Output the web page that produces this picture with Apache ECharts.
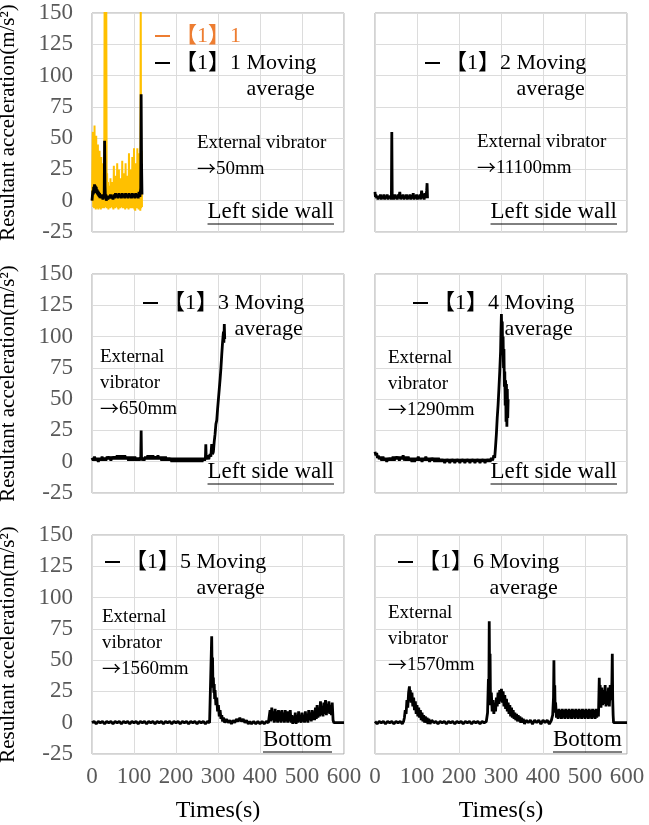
<!DOCTYPE html>
<html>
<head>
<meta charset="utf-8">
<title>Resultant acceleration</title>
<script src="https://cdn.jsdelivr.net/npm/echarts@6.0.0/dist/echarts.min.js"></script>
<style>
  html, body { margin: 0; padding: 0; background: #fff; }
  #chart { width: 649px; height: 825px; }
</style>
</head>
<body>
<div id="chart"></div>
<script>
// axis ticks
const xTicks = [0, 100, 200, 300, 400, 500, 600];
const yTicks = [-25, 0, 25, 50, 75, 100, 125, 150];

// [time (s), acceleration (m/s2)]
const wall1Raw = [[0,0],[1,30],[2,55],[3,-5],[4,48],[5,-6],[6,60],[7,-4],[8,42],[9,-7],[10,52],[11,-5],[12,38],[13,-6],[14,45],[15,-7],[16,33],[17,-5],[18,40],[19,-6],[20,28],[21,-7],[22,35],[23,-5],[24,22],[25,-6],[26,30],[27,-5],[28,18],[29,-6],[30,160],[31,-5],[32,160],[33,-4],[34,160],[35,-6],[36,22],[37,-5],[38,15],[39,-7],[40,12],[41,-5],[42,8],[43,-6],[44,18],[45,-4],[46,10],[47,-5],[48,15],[49,-6],[50,9],[51,-7],[52,28],[53,-5],[54,14],[55,-6],[56,20],[57,-4],[58,12],[59,-5],[60,30],[61,-6],[62,15],[63,-7],[64,25],[65,-5],[66,12],[67,-6],[68,18],[69,-4],[70,14],[71,-5],[72,32],[73,-6],[74,16],[75,-5],[76,22],[77,-6],[78,12],[79,-7],[80,30],[81,-5],[82,15],[83,-6],[84,20],[85,-4],[86,14],[87,-7],[88,38],[89,-5],[90,18],[91,-6],[92,25],[93,-5],[94,15],[95,-6],[96,35],[97,-4],[98,20],[99,-6],[100,42],[101,-7],[102,22],[103,-8],[104,30],[105,-5],[106,18],[107,-6],[108,42],[109,-5],[110,25],[111,-7],[112,38],[113,-6],[114,28],[115,-8],[116,160],[117,-6],[118,40],[119,-5]];
const wall1Avg = [[0,0],[1,4],[2,8],[3,5],[4,11],[5,7],[6,13],[7,8],[8,12],[9,6],[10,11],[11,7],[12,9],[13,5],[14,8],[15,4],[16,7],[17,3],[18,6],[19,2],[20,5],[22,2],[24,5],[26,1],[28,4],[29,2],[30,48],[31,12],[32,2],[33,5],[34,0],[36,3],[38,1],[40,4],[42,2],[44,5],[46,2],[48,4],[50,1],[52,5],[54,2],[56,6],[58,3],[60,5],[62,2],[64,6],[66,3],[68,5],[70,2],[72,6],[74,3],[76,5],[78,2],[80,6],[82,3],[84,5],[86,2],[88,6],[90,3],[92,5],[94,2],[96,6],[98,3],[100,5],[102,2],[104,6],[106,3],[108,5],[110,2],[112,7],[114,3],[116,10],[117,85],[118,30],[119,5]];
const wall2Avg = [[0,7],[1,3],[2,5],[3,2],[5,4],[7,1],[9,4],[11,2],[13,5],[15,1],[17,4],[19,2],[21,5],[23,1],[25,4],[27,2],[29,5],[31,1],[33,4],[35,2],[37,4],[39,1],[40,55],[41,2],[43,4],[45,1],[47,5],[49,2],[51,4],[53,1],[55,5],[57,2],[59,7],[61,1],[63,4],[65,2],[67,5],[69,1],[71,4],[73,2],[75,5],[77,1],[79,4],[81,2],[83,5],[85,1],[87,4],[89,2],[91,6],[93,1],[95,4],[97,2],[99,5],[101,1],[103,4],[105,2],[107,5],[109,1],[111,8],[113,2],[115,5],[117,1],[119,6],[121,2],[123,8],[124,14],[125,2]];
const wall3Avg = [[0,3],[3,1],[6,4],[9,1],[12,3],[15,0],[18,3],[21,1],[24,4],[27,1],[30,3],[33,1],[36,4],[39,2],[42,4],[45,1],[48,4],[51,2],[54,4],[57,2],[60,5],[63,2],[66,5],[69,2],[72,5],[75,2],[78,5],[81,2],[84,4],[87,1],[90,4],[93,1],[96,4],[99,1],[102,4],[105,1],[108,3],[111,1],[114,3],[116,1],[117,25],[118,1],[121,3],[124,1],[127,4],[130,2],[133,5],[136,2],[139,5],[142,2],[145,5],[148,2],[151,4],[154,2],[157,5],[160,2],[163,4],[166,1],[169,4],[172,1],[175,4],[178,1],[181,3],[184,1],[187,3],[190,0],[193,3],[196,0],[199,3],[202,0],[205,3],[208,0],[211,3],[214,0],[217,3],[220,0],[223,3],[226,0],[229,3],[232,0],[235,3],[238,0],[241,3],[244,0],[247,3],[250,0],[253,3],[256,0],[259,3],[262,0],[265,3],[268,1],[270,3],[271,14],[272,2],[275,5],[278,2],[281,6],[283,4],[285,14],[287,6],[289,8],[291,16],[293,22],[295,30],[297,33],[299,42],[301,50],[303,58],[305,66],[307,75],[309,86],[311,96],[313,104],[314,95],[315,110],[316,98]];
const wall4Avg = [[0,8],[2,5],[4,7],[6,3],[8,5],[10,2],[13,4],[16,1],[19,4],[22,1],[25,3],[28,0],[31,3],[34,1],[37,3],[40,1],[43,4],[46,1],[49,4],[52,2],[55,4],[58,1],[61,4],[64,2],[67,5],[70,1],[73,4],[76,1],[79,4],[82,1],[85,3],[88,0],[91,3],[94,0],[97,3],[100,1],[103,4],[106,1],[109,3],[112,0],[115,3],[118,1],[121,4],[124,1],[127,3],[130,0],[133,3],[136,1],[139,3],[142,0],[145,3],[148,0],[151,3],[154,0],[157,2],[160,0],[163,2],[166,-1],[169,2],[172,0],[175,2],[178,-1],[181,2],[184,0],[187,2],[190,-1],[193,2],[196,0],[199,2],[202,-1],[205,2],[208,0],[211,2],[214,-1],[217,2],[220,0],[223,2],[226,-1],[229,2],[232,0],[235,2],[238,-1],[241,2],[244,0],[247,2],[250,-1],[253,2],[256,0],[259,2],[262,-1],[265,2],[268,0],[271,2],[274,0],[277,3],[280,1],[283,5],[285,3],[287,12],[289,22],[291,35],[293,45],[295,58],[297,72],[299,88],[300,105],[301,118],[302,98],[303,112],[304,85],[305,100],[306,75],[307,90],[308,60],[309,72],[310,45],[311,65],[312,32],[313,62],[314,28],[315,58],[316,35],[317,50]];
const bottom5Avg = [[0,0],[5,1],[10,-1],[15,1],[20,0],[25,1],[30,-1],[35,1],[40,0],[45,1],[50,-1],[55,1],[60,0],[65,1],[70,-1],[75,1],[80,0],[85,1],[90,-1],[95,1],[100,0],[105,1],[110,-1],[115,1],[120,0],[125,1],[130,-1],[135,1],[140,0],[145,1],[150,-1],[155,1],[160,0],[165,1],[170,-1],[175,1],[180,0],[185,1],[190,-1],[195,1],[200,0],[205,1],[210,-1],[215,1],[220,0],[225,1],[230,-1],[235,1],[240,0],[245,1],[250,-1],[255,1],[260,0],[265,1],[270,-1],[275,1],[280,0],[283,1],[285,69],[286,38],[287,52],[288,28],[289,36],[290,24],[291,31],[292,19],[293,26],[295,14],[297,20],[299,9],[301,14],[303,5],[305,10],[307,3],[309,6],[311,1],[313,4],[316,0],[320,3],[324,0],[328,2],[332,-1],[336,2],[340,0],[344,3],[348,1],[352,4],[356,1],[360,3],[364,0],[368,2],[372,-1],[376,1],[380,-1],[385,1],[390,-1],[395,1],[400,-1],[405,1],[410,-1],[415,1],[420,0],[422,1],[424,10],[426,1],[428,12],[430,2],[432,9],[434,0],[436,11],[438,1],[440,9],[442,0],[444,10],[446,1],[448,9],[450,0],[452,10],[454,1],[456,8],[458,0],[460,10],[462,1],[464,9],[466,0],[468,9],[470,1],[472,10],[474,0],[476,6],[478,-1],[480,5],[482,0],[484,8],[486,-1],[488,6],[490,0],[492,9],[494,1],[496,5],[498,0],[500,8],[502,1],[504,6],[506,0],[508,9],[510,1],[512,7],[514,0],[516,10],[518,2],[520,8],[522,1],[524,10],[526,2],[528,9],[530,2],[532,12],[534,3],[536,14],[538,4],[540,11],[542,5],[544,17],[546,6],[548,13],[550,5],[552,16],[554,7],[556,18],[558,6],[560,15],[562,8],[564,17],[566,7],[568,14],[570,6],[572,16],[574,2],[576,0],[600,0]];
const bottom6Avg = [[0,1],[5,-1],[10,1],[15,0],[20,1],[25,-1],[30,1],[35,0],[40,1],[45,-1],[50,1],[55,0],[60,1],[65,-1],[68,1],[70,4],[72,10],[74,7],[76,18],[78,12],[80,24],[82,29],[83,20],[84,26],[86,16],[88,24],[90,13],[92,20],[94,10],[96,17],[98,7],[100,14],[102,5],[104,12],[106,4],[108,10],[110,2],[112,8],[114,1],[116,6],[118,0],[120,5],[122,0],[124,4],[126,-1],[128,3],[131,-1],[135,2],[140,0],[145,1],[150,-1],[155,1],[160,0],[165,1],[170,-1],[175,1],[180,0],[185,1],[190,-1],[195,1],[200,0],[205,1],[210,-1],[215,1],[220,0],[225,1],[230,-1],[235,1],[240,0],[245,1],[250,-1],[255,1],[260,0],[265,1],[268,8],[270,35],[271,20],[272,81],[273,30],[274,55],[275,14],[277,24],[279,9],[281,18],[283,7],[285,15],[287,9],[289,20],[291,13],[293,24],[295,15],[297,26],[299,17],[301,27],[303,16],[305,25],[307,13],[309,22],[311,11],[313,19],[315,9],[317,16],[319,7],[321,14],[323,5],[325,12],[327,4],[329,10],[331,3],[333,8],[335,2],[337,7],[339,1],[341,6],[343,1],[345,5],[347,0],[349,4],[351,0],[353,3],[356,-1],[360,2],[365,0],[370,2],[375,-1],[380,2],[385,0],[390,2],[395,-1],[400,2],[405,0],[410,2],[415,-1],[420,2],[423,6],[425,20],[426,50],[427,10],[428,30],[429,8],[430,16],[432,4],[434,10],[436,3],[438,11],[440,4],[442,10],[444,3],[446,11],[448,4],[450,10],[452,3],[454,11],[456,4],[458,10],[460,3],[462,11],[464,4],[466,10],[468,3],[470,11],[472,4],[474,10],[476,3],[478,11],[480,4],[482,10],[484,3],[486,11],[488,4],[490,10],[492,3],[494,11],[496,4],[498,10],[500,3],[502,11],[504,4],[506,10],[508,3],[510,11],[512,4],[514,10],[516,3],[518,11],[520,4],[522,10],[524,3],[526,11],[528,4],[530,10],[532,5],[534,36],[535,14],[536,30],[538,12],[540,28],[542,14],[544,26],[546,15],[548,30],[550,13],[552,25],[554,14],[556,28],[558,13],[560,30],[562,18],[564,32],[565,55],[566,18],[567,6],[568,0],[600,0]];

const avgData = [wall1Avg, wall2Avg, wall3Avg, wall4Avg, bottom5Avg, bottom6Avg];
const avgNames = ['【1】1 Moving average', '【1】2 Moving average', '【1】3 Moving average',
                  '【1】4 Moving average', '【1】5 Moving average', '【1】6 Moving average'];
const rawName = '【1】1';
const vibratorNotes = [
  'External vibrator\n→50mm', 'External vibrator\n→11100mm', 'External\nvibrator\n→650mm',
  'External\nvibrator\n→1290mm', 'External\nvibrator\n→1560mm', 'External\nvibrator\n→1570mm'
];
const places = ['Left side wall', 'Left side wall', 'Left side wall', 'Left side wall', 'Bottom', 'Bottom'];

// layout (pixels)
const FONT = "'Liberation Serif', 'DejaVu Serif', 'Noto Sans CJK JP', serif";
const colLeft = [92, 375];
const rowTop = [13, 274, 535];
const plotW = 252, plotH = 219;
const legendPos = [[155, 63], [425, 63], [143, 303], [413, 303], [105, 562], [398, 562]];
const notePos = [[197, 130], [477, 129], [100, 344], [388, 345], [102, 604], [388, 600]];
const placePos = [[334, 212], [617, 212], [334, 472], [617, 472], [332, 740], [622, 740]];

const chart = echarts.init(document.getElementById('chart'));

const grids = [], xAxes = [], yAxes = [], series = [], legends = [], graphics = [];
const measure = document.createElement('canvas').getContext('2d');
measure.font = "23px 'Liberation Serif'";

for (let i = 0; i < 6; i++) {
  const col = i % 2, row = Math.floor(i / 2);
  grids.push({
    left: colLeft[col], top: rowTop[row], width: plotW, height: plotH,
    outerBoundsMode: 'none',
    show: true, borderColor: '#a6a6a6', borderWidth: 1, backgroundColor: '#fff'
  });
  xAxes.push({
    type: 'value', gridIndex: i,
    min: xTicks[0], max: xTicks[xTicks.length - 1], interval: xTicks[1] - xTicks[0],
    axisLine: { show: false }, axisTick: { show: false },
    axisLabel: { show: row === 2, margin: 11, color: '#595959', fontSize: 23, fontFamily: FONT },
    splitLine: { show: true, lineStyle: { color: '#dcdcdc', width: 1 } },
    name: row === 2 ? 'Times(s)' : '', nameLocation: 'middle', nameGap: 45,
    nameTextStyle: { color: '#000', fontSize: 24, fontFamily: FONT }
  });
  yAxes.push({
    type: 'value', gridIndex: i,
    min: yTicks[0], max: yTicks[yTicks.length - 1], interval: yTicks[1] - yTicks[0],
    axisLine: { show: false }, axisTick: { show: false },
    axisLabel: { show: col === 0, margin: 19, color: '#595959', fontSize: 23, fontFamily: FONT },
    splitLine: { show: true, lineStyle: { color: '#dcdcdc', width: 1 } },
    name: col === 0 ? 'Resultant acceleration(m/s²)' : '', nameLocation: 'middle', nameGap: 73,
    nameTextStyle: { color: '#000', fontSize: 21, fontFamily: FONT }
  });

  if (i === 0) {
    series.push({
      name: rawName, type: 'line', xAxisIndex: 0, yAxisIndex: 0, data: wall1Raw,
      showSymbol: false, symbol: 'none', color: '#FFC000',
      lineStyle: { color: '#FFC000', width: 2 }
    });
  }
  series.push({
    name: avgNames[i], type: 'line', xAxisIndex: i, yAxisIndex: i, data: avgData[i],
    showSymbol: false, symbol: 'none', color: '#000',
    lineStyle: { color: '#000', width: 2.8 }
  });

  const [lx, ly] = legendPos[i];
  legends.push({
    data: [avgNames[i]], left: lx, top: ly - 39, padding: 0,
    orient: 'vertical', icon: 'rect', itemWidth: 15, itemHeight: 2, itemGap: 0,
    selectedMode: false,
    formatter: name => {
      const cut = name.lastIndexOf(' ');
      return '\n' + name.slice(0, cut) + '\n' + ' '.repeat(13) + name.slice(cut + 1);
    },
    textStyle: { color: '#000', fontSize: 22, lineHeight: 26, fontFamily: FONT }
  });

  // the arrow is taken from the CJK font, where it is long and thin
  const [nx, ny] = notePos[i];
  graphics.push({
    type: 'text', x: nx, y: ny, silent: true, z: 100,
    style: {
      text: vibratorNotes[i].replace('→', '{arw|→}'),
      fontSize: 19, fontFamily: FONT, fill: '#000', lineHeight: 26, verticalAlign: 'top',
      rich: { arw: { fontSize: 19, lineHeight: 26, fontFamily: "'Noto Sans CJK JP'", fill: '#000' } }
    }
  });

  const [px, py] = placePos[i];
  const w = measure.measureText(places[i]).width;
  graphics.push({
    type: 'text', x: px, y: py, silent: true, z: 100,
    style: {
      text: places[i], fontSize: 23, fontFamily: FONT, fill: '#000',
      align: 'right', verticalAlign: 'middle'
    }
  });
  graphics.push({
    type: 'line', silent: true, z: 100,
    shape: { x1: px - w, y1: py + 12, x2: px, y2: py + 12 },
    style: { stroke: '#000', lineWidth: 1 }
  });
}

// orange raw series key in the first panel
legends.push({
  data: [{ name: rawName, itemStyle: { color: '#ED7D31' }, textStyle: { color: '#ED7D31' } }],
  left: 155, top: 36 - 13, padding: 0,
  icon: 'rect', itemWidth: 15, itemHeight: 2, selectedMode: false,
  textStyle: { fontSize: 22, lineHeight: 26, fontFamily: FONT }
});

chart.setOption({
  animation: false,
  backgroundColor: '#fff',
  grid: grids,
  xAxis: xAxes,
  yAxis: yAxes,
  legend: legends,
  series: series,
  graphic: graphics
});
</script>
</body>
</html>
